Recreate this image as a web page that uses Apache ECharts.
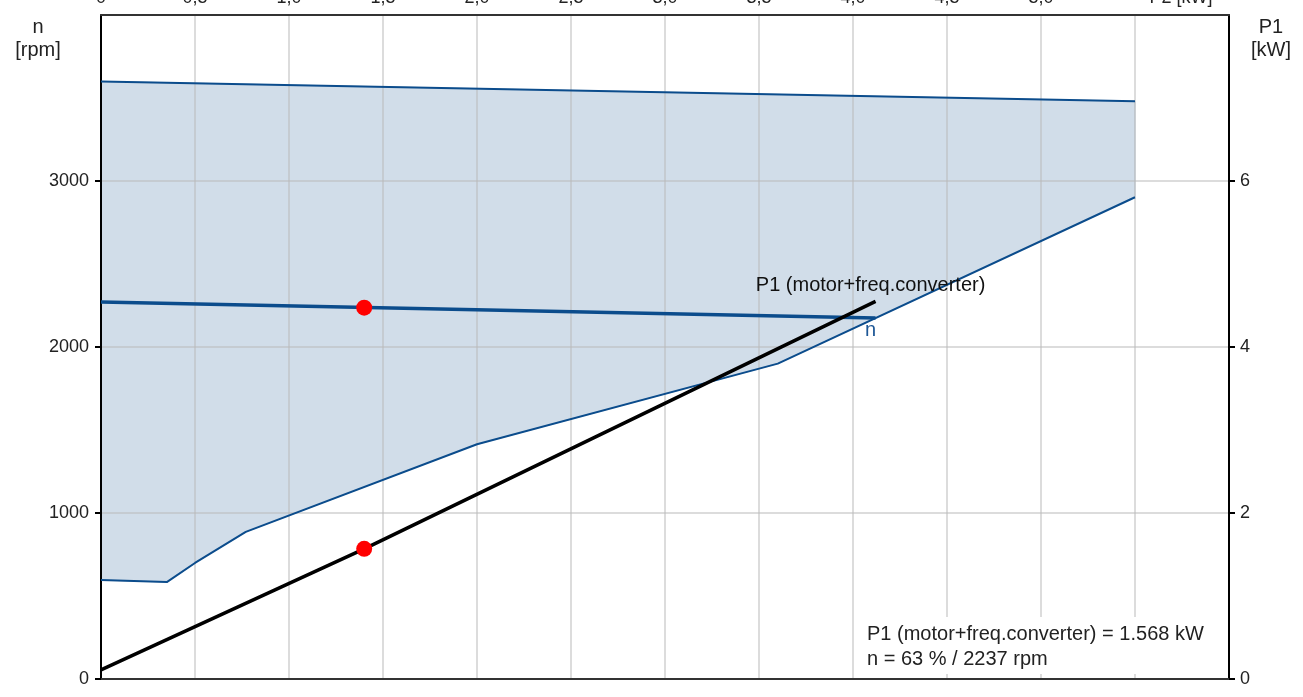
<!DOCTYPE html>
<html>
<head>
<meta charset="utf-8">
<script src="https://cdn.jsdelivr.net/npm/echarts@6/dist/echarts.min.js"></script>
<style>html,body{margin:0;padding:0;background:#fff;}#c{width:1303px;height:697px;}</style>
</head>
<body>
<div id="c"></div>
<script>
// ---- data ----
const topTickLabels = ['0','0,5','1,0','1,5','2,0','2,5','3,0','3,5','4,0','4,5','5,0','P2 [kW]'];
const leftTickValues = [0, 1000, 2000, 3000];
const rightTickValues = [0, 2, 4, 6];

// operating range (shaded)
const rangeUpperP2 = [0, 5.5];
const rangeUpperN = [3600, 3480];
const rangeLowerP2 = [0, 0.35, 0.5, 0.77, 2.0, 3.6, 5.5];
const rangeLowerN = [596, 584, 699, 886, 1414, 1900, 2902];

// speed curve n
const nP2 = [0, 4.12];
const nRpm = [2271, 2175];

// power curve P1 (motor + freq. converter)
const p1P2 = [0, 1.4, 4.12];
const p1kW = [0.11, 1.568, 4.55];

// operating point
const opP2 = 1.4;
const opN = 2237;
const opP1 = 1.568;

const annotation = ['P1 (motor+freq.converter) = 1.568 kW', 'n = 63 % / 2237 rpm'];

// ---- chart ----
const FONT = 'Liberation Sans, Arial, sans-serif';
const BLUE = '#0b4c8c';
const GRIDC = 'rgba(185,185,185,0.68)';
const zip = (a, b) => a.map((v, i) => [v, b[i]]);

const chart = echarts.init(document.getElementById('c'), null, {renderer: 'canvas'});

const option = {
  backgroundColor: '#fff',
  animation: false,
  grid: {left: 101, right: 74, top: 15, bottom: 18, containLabel: false, outerBoundsMode: 'none'},
  xAxis: [
    {
      type: 'value', position: 'top', min: 0, max: 6, interval: 0.5,
      axisLine: {show: true, onZero: false, lineStyle: {color: '#333', width: 2}},
      axisTick: {show: false},
      axisLabel: {
        show: true, margin: 8, color: '#222', fontSize: 18, fontFamily: FONT,
        formatter: function (v) {
          const i = Math.round(v / 0.5);
          if (i === 11) return '{p|' + topTickLabels[i] + '}';
          return topTickLabels[i] || '';
        },
        rich: {p: {fontSize: 18, fontFamily: FONT, color: '#222', padding: [0, 0, 0, 92]}}
      },
      splitLine: {show: true, lineStyle: {color: GRIDC, width: 1.5}}
    },
    {
      type: 'value', position: 'bottom', min: 0, max: 6,
      axisLine: {show: true, onZero: false, lineStyle: {color: '#333', width: 2}},
      axisTick: {show: false}, axisLabel: {show: false}, splitLine: {show: false}
    }
  ],
  yAxis: [
    {
      type: 'value', position: 'left', min: 0, max: 4000, interval: 500,
      axisLine: {show: true, onZero: false, lineStyle: {color: '#000', width: 2}},
      axisTick: {show: true, length: 6, customValues: leftTickValues, lineStyle: {color: '#000', width: 2}},
      axisLabel: {show: true, margin: 12, customValues: leftTickValues, color: '#222', fontSize: 18, fontFamily: FONT,
        formatter: function (v) { return String(v); }},
      splitLine: {show: true, lineStyle: {color: GRIDC, width: 1.5}}
    },
    {
      type: 'value', position: 'right', min: 0, max: 8, interval: 1,
      axisLine: {show: true, onZero: false, lineStyle: {color: '#000', width: 2}},
      axisTick: {show: true, length: 6, customValues: rightTickValues, lineStyle: {color: '#000', width: 2}},
      axisLabel: {show: true, margin: 11, customValues: rightTickValues, color: '#222', fontSize: 18, fontFamily: FONT,
        formatter: function (v) { return String(v); }},
      splitLine: {show: false}
    }
  ],
  graphic: [
    {type: 'text', x: 38, y: 16, z: 10, style: {text: 'n\n[rpm]', align: 'center', verticalAlign: 'top', fontSize: 20, fontFamily: FONT, lineHeight: 23, fill: '#222'}},
    {type: 'text', x: 1271, y: 16, z: 10, style: {text: 'P1\n[kW]', align: 'center', verticalAlign: 'top', fontSize: 20, fontFamily: FONT, lineHeight: 23, fill: '#222'}},
    {type: 'text', x: 860, y: 617, z: 10, style: {text: annotation.join('\n'), align: 'left', verticalAlign: 'top', fontSize: 20, fontFamily: FONT, lineHeight: 25, fill: '#222', backgroundColor: '#fff', padding: [5, 8, 2, 7]}}
  ],
  series: [
    {
      type: 'custom', name: 'range', xAxisIndex: 0, yAxisIndex: 0, z: -1, silent: true,
      data: [[0, 0]],
      renderItem: function (params, api) {
        const pts = [];
        for (let i = 0; i < rangeUpperP2.length; i++) pts.push(api.coord([rangeUpperP2[i], rangeUpperN[i]]));
        for (let i = rangeLowerP2.length - 1; i >= 0; i--) pts.push(api.coord([rangeLowerP2[i], rangeLowerN[i]]));
        return {type: 'polygon', shape: {points: pts}, style: {fill: '#d1dde9', stroke: '#b9c9d9', lineWidth: 1}};
      }
    },
    {
      type: 'line', name: 'upper', xAxisIndex: 0, yAxisIndex: 0, z: 3, symbol: 'none', silent: true,
      data: zip(rangeUpperP2, rangeUpperN), lineStyle: {color: BLUE, width: 2}
    },
    {
      type: 'line', name: 'lower', xAxisIndex: 0, yAxisIndex: 0, z: 3, symbol: 'none', silent: true,
      data: zip(rangeLowerP2, rangeLowerN), lineStyle: {color: BLUE, width: 2}
    },
    {
      type: 'line', name: 'n', xAxisIndex: 0, yAxisIndex: 0, z: 4, symbol: 'none', silent: true,
      data: zip(nP2, nRpm), lineStyle: {color: BLUE, width: 3.5}
    },
    {
      type: 'line', name: 'P1', xAxisIndex: 0, yAxisIndex: 1, z: 5, symbol: 'none', silent: true,
      data: zip(p1P2, p1kW), lineStyle: {color: '#000', width: 3.5}
    },
    {
      type: 'scatter', name: 'nLabel', xAxisIndex: 0, yAxisIndex: 0, z: 6, symbolSize: 1, silent: true,
      itemStyle: {color: 'rgba(0,0,0,0)', opacity: 1},
      data: [[nP2[nP2.length - 1], nRpm[nRpm.length - 1]]],
      label: {show: true, position: 'bottom', distance: 2, offset: [-5, 0], formatter: 'n', color: '#1d5796', fontSize: 20, fontFamily: FONT}
    },
    {
      type: 'scatter', name: 'p1Label', xAxisIndex: 0, yAxisIndex: 1, z: 6, symbolSize: 1, silent: true,
      itemStyle: {color: 'rgba(0,0,0,0)', opacity: 1},
      data: [[p1P2[p1P2.length - 1], p1kW[p1kW.length - 1]]],
      label: {show: true, position: 'top', distance: 5, offset: [-5, 0], formatter: 'P1 (motor+freq.converter)', color: '#111', fontSize: 20, fontFamily: FONT}
    },
    {
      type: 'scatter', name: 'opN', xAxisIndex: 0, yAxisIndex: 0, z: 8, symbolSize: 16, silent: true,
      itemStyle: {color: '#ff0000', opacity: 1}, data: [[opP2, opN]]
    },
    {
      type: 'scatter', name: 'opP1', xAxisIndex: 0, yAxisIndex: 1, z: 8, symbolSize: 16, silent: true,
      itemStyle: {color: '#ff0000', opacity: 1}, data: [[opP2, opP1]]
    }
  ]
};
chart.setOption(option);
</script>
</body>
</html>
